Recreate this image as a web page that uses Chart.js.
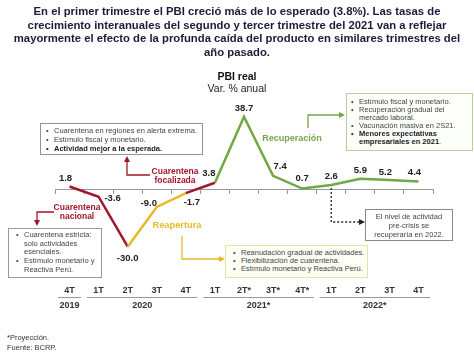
<!DOCTYPE html>
<html>
<head>
<meta charset="utf-8">
<script src="https://cdn.jsdelivr.net/npm/chart.js@4.4.0/dist/chart.umd.min.js"></script>
<style>
    html, body { margin: 0; padding: 0; background: #fff; }
    #wrap { position: relative; width: 474px; height: 354px; overflow: hidden; font-family: "Liberation Sans", Arial, sans-serif; }
    #pbi-chart { position: absolute; left: 0; top: 0; }
    .abs { position: absolute; white-space: nowrap; }
    .title { left: 0; top: 5px; width: 474px; text-align: center; font-weight: bold; font-size: 11.3px; line-height: 13.7px; color: #1c1c3a; }
    .sub1 { left: 0; width: 474px; text-align: center; top: 70px; font-weight: bold; font-size: 10.5px; color: #111; }
    .sub2 { left: 0; width: 474px; text-align: center; top: 82px; font-size: 10.5px; color: #222; }
    .box { position: absolute; box-sizing: border-box; font-size: 7.5px; color: #444; white-space: nowrap; }
    .box .li { position: relative; padding-left: 9px; }
    .box .li:before { content: "\2022"; position: absolute; left: 1px; top: 0; }
    .box .cont { padding-left: 9px; }
    .phase { position: absolute; font-weight: bold; text-align: center; white-space: nowrap; }
    .foot { left: 7px; top: 333px; font-size: 7.5px; line-height: 9.5px; color: #333; }
</style>
</head>
<body>
<div id="wrap">
    <canvas id="pbi-chart" width="474" height="354"></canvas>

    <div class="abs title">En el primer trimestre el PBI creció más de lo esperado (3.8%). Las tasas de<br>crecimiento interanuales del segundo y tercer trimestre del 2021 van a reflejar<br>mayormente el efecto de la profunda caída del producto en similares trimestres del<br>año pasado.</div>
    <div class="abs sub1">PBI real</div>
    <div class="abs sub2">Var. % anual</div>

    <!-- Cuarentena focalizada -->
    <div class="box" style="left:40px;top:123px;width:163px;height:32px;border:1px solid #a58d8d;padding:2px 0 0 4px;line-height:9px;">
        <div class="li">Cuarentena en regiones en alerta extrema.</div>
        <div class="li">Estímulo fiscal y monetario.</div>
        <div class="li" style="font-weight:bold;color:#222;">Actividad mejor a la esperada.</div>
    </div>
    <div class="phase" style="left:150px;top:167px;width:50px;font-size:8.5px;line-height:9px;color:#a3162a;">Cuarentena<br>focalizada</div>

    <!-- Cuarentena nacional -->
    <div class="phase" style="left:52px;top:203px;width:50px;font-size:8.5px;line-height:9px;color:#a3162a;">Cuarentena<br>nacional</div>
    <div class="box" style="left:8px;top:228px;width:94px;height:50px;border:1px solid #999;padding:2px 0 0 6px;line-height:8.7px;">
        <div class="li">Cuarentena estricta:</div>
        <div class="cont">solo actividades</div>
        <div class="cont">esenciales.</div>
        <div class="li">Estímulo monetario y</div>
        <div class="cont">Reactiva Perú.</div>
    </div>

    <!-- Reapertura -->
    <div class="phase" style="left:147px;top:220px;width:60px;font-size:9.3px;line-height:11px;color:#e8bc2c;">Reapertura</div>
    <div class="box" style="left:225px;top:245px;width:143px;height:33px;border:1px solid #e6e2a8;background:#fffff6;padding:3px 0 0 6px;line-height:8.2px;">
        <div class="li">Reanudación gradual de actividades.</div>
        <div class="li">Flexibilización de cuarentena.</div>
        <div class="li">Estímulo monetario y Reactiva Perú.</div>
    </div>

    <!-- Recuperación -->
    <div class="phase" style="left:257px;top:133px;width:70px;font-size:9px;line-height:11px;color:#72a846;">Recuperación</div>
    <div class="box" style="left:346px;top:93px;width:127px;height:58px;border:1px solid #bccd9c;background:#fdfffa;padding:4px 0 0 3px;line-height:8px;">
        <div class="li">Estímulo fiscal y monetario.</div>
        <div class="li">Recuperación gradual del</div>
        <div class="cont">mercado laboral.</div>
        <div class="li">Vacunación masiva en 2S21.</div>
        <div class="li" style="font-weight:bold;color:#222;">Menores expectativas</div>
        <div class="cont"><b style="color:#222;">empresariales en 2021</b>.</div>
    </div>

    <!-- Pre-crisis -->
    <div class="box" style="left:365px;top:209px;width:88px;height:32px;border:1px solid #888;padding-top:2px;line-height:9px;text-align:center;">
        El nivel de actividad<br>pre-crisis se<br>recuperaría en 2022.
    </div>

    <div class="abs foot">*Proyección.<br>Fuente: BCRP.</div>
</div>

<script>
// Trimestres (eje X) y años
const quarterLabels = ['4T', '1T', '2T', '3T', '4T', '1T', '2T*', '3T*', '4T*', '1T', '2T', '3T', '4T'];
const yearLabels = ['2019', '2020', '2021*', '2022*'];
const yearSpans = [1, 4, 4, 4];

// PBI real, var. % anual
const pbiValues = [1.8, -3.6, -30.0, -9.0, -1.7, 3.8, 38.7, 7.4, 0.7, 2.6, 5.9, 5.2, 4.4];

// Fase de cada tramo (entre un trimestre y el siguiente)
const segmentPhase = ['nacional', 'nacional', 'reapertura', 'reapertura', 'focalizada',
    'recuperacion', 'recuperacion', 'recuperacion', 'recuperacion', 'recuperacion', 'recuperacion', 'recuperacion'];

const phaseColors = {
    nacional: '#a3162a',
    focalizada: '#a3162a',
    reapertura: '#e8b828',
    recuperacion: '#70a844',
};

// Desplazamiento de cada etiqueta respecto a su punto
const labelOffsets = [[-4, -8], [14, 2], [0, 12], [-8, -4], [6, 9], [-6, -9], [0, -8],
    [7, -10], [0, -10], [0, -9], [0, -8], [-4, -8], [-4, -9]];

const FONT = '"Liberation Sans", Arial, sans-serif';

/**
 * Etiquetas de valores sobre la línea
 */
const valueLabels = {
    id: 'valueLabels',
    afterDatasetsDraw(chart) {
        const ctx = chart.ctx;
        const meta = chart.getDatasetMeta(0);
        ctx.save();
        ctx.font = 'bold 9.5px ' + FONT;
        ctx.fillStyle = '#222';
        ctx.textAlign = 'center';
        ctx.textBaseline = 'middle';
        meta.data.forEach((pt, i) => {
            const [dx, dy] = labelOffsets[i];
            ctx.fillText(pbiValues[i].toFixed(1), pt.x + dx, pt.y + dy);
        });
        ctx.restore();
    }
};

/**
 * Años bajo los trimestres
 */
const yearAxis = {
    id: 'yearAxis',
    afterDraw(chart) {
        const ctx = chart.ctx;
        const xs = chart.scales.x;
        const half = (xs.getPixelForValue(1) - xs.getPixelForValue(0)) / 2;
        ctx.save();
        ctx.strokeStyle = '#999';
        ctx.lineWidth = 1;
        ctx.fillStyle = '#333';
        ctx.font = 'bold 9px ' + FONT;
        ctx.textAlign = 'center';
        ctx.textBaseline = 'middle';
        let start = 0;
        yearLabels.forEach((yl, k) => {
            const end = start + yearSpans[k] - 1;
            const l = xs.getPixelForValue(start) - half + 3;
            const r = xs.getPixelForValue(end) + half - 3;
            ctx.beginPath();
            ctx.moveTo(l, 297.5);
            ctx.lineTo(r, 297.5);
            ctx.stroke();
            ctx.fillText(yl, (l + r) / 2, 306);
            start += yearSpans[k];
        });
        ctx.restore();
    }
};

/**
 * Flechas de las anotaciones
 */
function arrow(ctx, pts, color, dashed) {
    ctx.save();
    ctx.strokeStyle = color;
    ctx.fillStyle = color;
    ctx.lineWidth = 1.3;
    if (dashed) ctx.setLineDash([2, 2]);
    ctx.beginPath();
    ctx.moveTo(pts[0][0], pts[0][1]);
    for (let i = 1; i < pts.length; i++) ctx.lineTo(pts[i][0], pts[i][1]);
    ctx.stroke();
    ctx.setLineDash([]);
    const [x1, y1] = pts[pts.length - 2];
    const [x2, y2] = pts[pts.length - 1];
    const a = Math.atan2(y2 - y1, x2 - x1);
    const len = 6, w = 3;
    ctx.beginPath();
    ctx.moveTo(x2 + Math.cos(a) * len, y2 + Math.sin(a) * len);
    ctx.lineTo(x2 - Math.sin(a) * w, y2 + Math.cos(a) * w);
    ctx.lineTo(x2 + Math.sin(a) * w, y2 - Math.cos(a) * w);
    ctx.closePath();
    ctx.fill();
    ctx.restore();
}

const annotations = {
    id: 'annotations',
    afterDraw(chart) {
        const ctx = chart.ctx;
        const p = chart.getDatasetMeta(0).data[9];
        arrow(ctx, [[150, 175], [127, 175], [127, 162]], '#a3162a');
        arrow(ctx, [[54, 212], [37, 212], [37, 220]], '#a3162a');
        arrow(ctx, [[182, 236], [182, 259], [219, 259]], '#e8b828');
        arrow(ctx, [[308, 128], [308, 115], [339, 115]], '#70a844');
        arrow(ctx, [[p.x, p.y + 3], [p.x, 222], [359, 222]], '#222', true);
    }
};

new Chart(document.getElementById('pbi-chart'), {
    type: 'line',
    data: {
        labels: quarterLabels,
        datasets: [{
            data: pbiValues,
            borderWidth: 2.5,
            pointRadius: 0,
            tension: 0,
            borderColor: phaseColors.recuperacion,
            segment: {
                borderColor: c => phaseColors[segmentPhase[c.p0DataIndex]],
            },
        }]
    },
    options: {
        responsive: false,
        animation: false,
        events: [],
        layout: { padding: { top: 100, left: 55, right: 41, bottom: 55.5 } },
        plugins: {
            legend: { display: false },
            tooltip: { enabled: false },
        },
        scales: {
            x: {
                offset: true,
                grid: { display: false, drawTicks: false },
                border: { display: false },
                ticks: {
                    padding: 3,
                    color: '#333',
                    font: { family: FONT, size: 9, weight: 'bold' },
                    maxRotation: 0,
                    autoSkip: false,
                },
            },
            x0: {
                type: 'category',
                offset: true,
                position: { y: 0 },
                ticks: { display: false },
                grid: { offset: true, drawOnChartArea: false, drawTicks: true, tickLength: 4, color: '#999' },
                border: { display: true, color: '#999', width: 1 },
            },
            y: {
                display: false,
                min: -48.5,
                max: 47.5,
            }
        }
    },
    plugins: [valueLabels, yearAxis, annotations]
});
</script>
</body>
</html>
